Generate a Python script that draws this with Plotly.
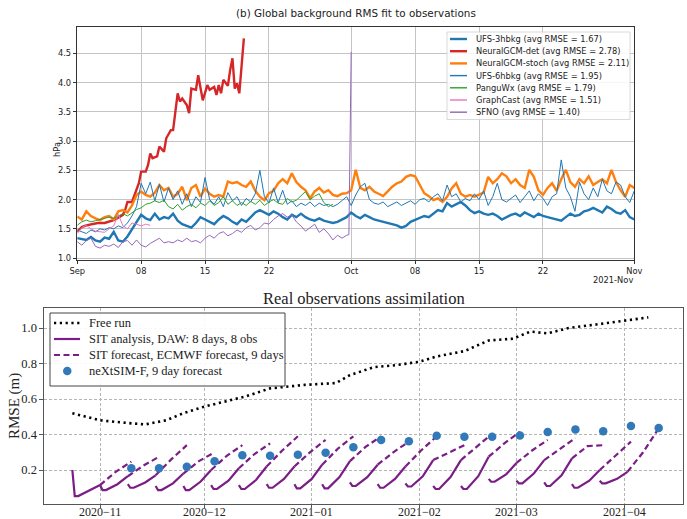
import plotly.graph_objects as go
import pandas as pd
import numpy as np

W, H = 687, 519

# ------------------------------------------------------------------
# TOP PANEL: Global background RMS fit to observations (hPa)
# 12-hourly values starting 2021-09-01 00Z
# ------------------------------------------------------------------
top_start = pd.Timestamp("2021-09-01")

ufs_3hbkg = [
    1.34, 1.33, 1.31, 1.36, 1.30, 1.28, 1.35, 1.33, 1.45, 1.30, 1.28, 1.37, 1.50,
    1.62, 1.74, 1.68, 1.65, 1.76, 1.66, 1.70, 1.68, 1.76, 1.64, 1.58, 1.55, 1.52,
    1.60, 1.70, 1.66, 1.62, 1.58, 1.66, 1.72, 1.68, 1.62, 1.58, 1.66, 1.62, 1.70,
    1.78, 1.82, 1.78, 1.74, 1.80, 1.76, 1.70, 1.66, 1.74, 1.70, 1.76, 1.70, 1.66,
    1.64, 1.68, 1.64, 1.62, 1.60, 1.62, 1.66, 1.70, 1.78, 1.72, 1.68, 1.74, 1.70,
    1.66, 1.64, 1.62, 1.60, 1.58, 1.56, 1.52, 1.55, 1.62, 1.65, 1.68, 1.72, 1.70,
    1.76, 1.82, 1.80, 1.94, 1.88, 1.92, 1.96, 1.90, 1.82, 1.77, 1.80, 1.76, 1.74,
    1.76, 1.72, 1.66, 1.70, 1.74, 1.76, 1.72, 1.78, 1.74, 1.70, 1.76, 1.72, 1.70,
    1.68, 1.66, 1.64, 1.70, 1.76, 1.72, 1.74, 1.80, 1.82, 1.86, 1.82, 1.78, 1.88,
    1.84, 1.78, 1.76, 1.82, 1.70, 1.66,
]

ngcm_stoch = [
    1.71, 1.66, 1.80, 1.72, 1.68, 1.65, 1.70, 1.72, 1.66, 1.80, 1.82, 1.78, 1.90,
    2.08, 2.14, 2.08, 2.05, 2.12, 2.25, 2.16, 2.20, 2.05, 2.10, 2.22, 1.99, 2.20,
    2.25, 2.05, 2.19, 2.10, 2.05, 2.08, 2.05, 2.31, 2.28, 2.30, 2.25, 2.22, 2.31,
    2.15, 2.05, 1.99, 2.11, 2.15, 2.28, 2.35, 2.28, 2.45, 2.30, 2.22, 2.16, 2.02,
    2.14, 2.20, 2.12, 2.16, 2.08, 2.06, 2.10, 2.11, 2.16, 2.51, 2.20, 2.16, 2.22,
    2.14, 2.10, 2.06, 2.14, 2.22, 2.28, 2.31, 2.39, 2.42, 2.40, 2.25, 2.11, 2.06,
    1.99, 2.02, 1.96, 2.05, 2.19, 2.28, 2.10, 2.05, 2.08, 2.05, 2.08, 2.12, 2.39,
    2.28, 2.35, 2.45, 2.40, 2.28, 2.35, 2.25, 2.20, 2.51, 2.39, 2.16, 2.08, 2.20,
    2.28, 2.15, 2.35, 2.51, 2.30, 2.22, 2.35, 2.28, 2.40, 2.25, 2.30, 2.35, 2.28,
    2.51, 2.30, 2.16, 2.05, 2.25, 2.20,
]

ufs_6hbkg = [
    1.48, 1.45, 1.42, 1.48, 1.45, 1.50, 1.48, 1.52, 1.50, 1.55, 1.52, 1.60, 1.72,
    1.88, 2.28, 2.10, 2.30, 1.98, 2.26, 1.96, 2.20, 2.00, 2.15, 1.92, 2.10, 1.88,
    2.05, 1.95, 2.38, 2.00, 1.92, 2.05, 1.88, 2.12, 1.98, 2.05, 1.90, 2.02, 1.96,
    2.10, 2.50, 2.05, 1.94, 2.20, 1.95, 2.16, 1.92, 1.98, 1.88, 1.94, 1.90, 1.96,
    1.88, 1.94, 1.90, 1.92, 1.88, 1.92, 1.99, 2.05, 1.90, 2.08, 2.22, 2.28, 2.00,
    1.94, 1.92, 1.96, 1.88, 1.92, 1.96, 1.90, 1.94, 1.98, 1.92, 2.00, 2.02, 1.96,
    2.05, 2.10, 1.98, 2.25, 2.05, 2.10, 1.96, 2.02, 1.98, 2.10, 2.00, 2.15, 1.90,
    2.05, 2.28, 2.00, 1.96, 2.02, 2.08, 1.95, 2.05, 2.15, 1.98, 2.10, 2.02, 1.90,
    2.05, 2.10, 2.68, 2.20, 2.05, 1.80, 2.30, 2.10, 2.00, 2.20, 2.05, 2.35, 2.15,
    2.10, 2.30, 2.25, 2.05, 1.95, 2.15,
]

pangu = [
    1.56, 1.62, 1.65, 1.62, 1.64, 1.66, 1.68, 1.70, 1.68, 1.72, 1.76, 1.72, 1.78,
    1.83, 1.86, 1.92, 1.94, 1.98, 1.95, 1.99, 1.88, 1.84, 1.92, 1.82, 1.88, 1.92,
    1.86, 1.94, 1.90, 1.98, 1.90, 1.95, 2.05, 1.92, 1.98, 1.90, 1.95, 1.90, 1.97,
    1.92, 1.99, 1.90, 1.96, 2.00, 1.94, 1.92, 2.02, 1.96, 1.99, 2.06, 2.14, 2.00,
    2.06, 2.10, 1.95, 1.88, 1.92,
]

graphcast = [1.42, 1.52, 1.56, 1.50, 1.46, 1.45, 1.44, 1.50, 1.55, 1.75, 1.55,
             1.50, 1.60, 1.58, 1.55, 1.58, 1.56]

sfno = [
    1.28, 1.22, 1.30, 1.34, 1.20, 1.17, 1.22, 1.20, 1.24, 1.18, 1.28, 1.30, 1.22,
    1.31, 1.22, 1.19, 1.25, 1.30, 1.34, 1.26, 1.28, 1.26, 1.31, 1.28, 1.34, 1.28,
    1.30, 1.26, 1.34, 1.39, 1.34, 1.42, 1.45, 1.38, 1.42, 1.48, 1.44, 1.52, 1.56,
    1.48, 1.52, 1.60, 1.58, 1.66, 1.72, 1.76, 1.70, 1.74, 1.62, 1.55, 1.46, 1.52,
    1.58, 1.44, 1.50, 1.42, 1.31, 1.39, 1.34, 1.39,
]
sfno_tail_days = [29.75, 30.0]
sfno_tail = [1.40, 4.53]

# NeuralGCM-det, 6-hourly sampling (days since 2021-09-01)
ngcm_det_days = [0, 0.5, 1.0, 1.5, 1.75, 2.25, 3.0, 3.5, 4.0, 4.5, 5.0, 5.25, 5.5,
                 6.0, 6.25, 6.75, 7.0, 7.5, 7.75, 8.0, 8.25, 8.75, 9.0, 9.5, 9.75,
                 10.25, 10.5, 11.0, 11.25, 11.5, 12.0, 12.25, 12.5, 13.0, 13.25,
                 13.5, 13.75, 14.25, 14.5, 15.0, 15.25, 15.5, 15.75, 16.0, 16.5,
                 16.75, 17.0, 17.25, 17.5, 17.75, 18.25]
ngcm_det = [1.45, 1.53, 1.56, 1.58, 1.59, 1.60, 1.60, 1.62, 1.65, 1.69, 1.74, 1.82,
            1.96, 1.96, 2.08, 2.28, 2.48, 2.48, 2.59, 2.79, 2.71, 2.74, 2.91, 2.82,
            3.05, 3.19, 3.19, 3.82, 3.68, 3.73, 3.62, 3.48, 3.90, 3.88, 4.13, 3.93,
            3.70, 3.96, 3.88, 3.93, 3.79, 3.96, 3.82, 4.05, 3.95, 4.22, 4.42, 3.90,
            3.99, 3.82, 4.76]

top_xticks = ["2021-09-01", "2021-09-08", "2021-09-15", "2021-09-22", "2021-10-01",
              "2021-10-08", "2021-10-15", "2021-10-22", "2021-11-01"]
top_xticklabels = ["Sep", "08", "15", "22", "Oct", "08", "15", "22", "Nov"]
top_yticks = [1.0, 1.5, 2.0, 2.5, 3.0, 3.5, 4.0, 4.5]

top_series = [
    ("UFS-3hbkg (avg RMSE = 1.67)", "#1f77b4", 2.4),
    ("NeuralGCM-det (avg RMSE = 2.78)", "#d62728", 2.4),
    ("NeuralGCM-stoch (avg RMSE = 2.11)", "#ff7f0e", 2.4),
    ("UFS-6hbkg (avg RMSE = 1.95)", "#1f77b4", 1.0),
    ("PanguWx (avg RMSE = 1.79)", "#2ca02c", 1.0),
    ("GraphCast (avg RMSE = 1.51)", "#e377c2", 1.0),
    ("SFNO (avg RMSE = 1.40)", "#9467bd", 1.0),
]

# ------------------------------------------------------------------
# BOTTOM PANEL: Real observations assimilation (RMSE, m)
# ------------------------------------------------------------------
free_run_dates = ["2020-10-24", "2020-11-01", "2020-11-10", "2020-11-14", "2020-11-20",
                  "2020-11-25", "2020-12-01", "2020-12-07", "2020-12-13", "2020-12-20",
                  "2020-12-30", "2021-01-08", "2021-01-12", "2021-01-19", "2021-01-25",
                  "2021-02-01", "2021-02-06", "2021-02-14", "2021-02-21", "2021-02-28",
                  "2021-03-05", "2021-03-10", "2021-03-16", "2021-03-24", "2021-03-31",
                  "2021-04-08"]
free_run = [0.52, 0.48, 0.463, 0.457, 0.48, 0.52, 0.557, 0.585, 0.615, 0.66, 0.68,
            0.69, 0.735, 0.78, 0.79, 0.81, 0.84, 0.87, 0.93, 0.94, 0.98, 0.97, 1.00,
            1.02, 1.04, 1.06]

first_valid = pd.Timestamp("2020-11-10")
cycle_step_days = 8
nextsim_f = [0.21, 0.21, 0.219, 0.249, 0.283, 0.28, 0.286, 0.297, 0.328, 0.369,
             0.362, 0.393, 0.388, 0.388, 0.395, 0.414, 0.429, 0.418, 0.448, 0.437]

sit_start = [0.20, 0.115, 0.12, 0.11, 0.11, 0.115, 0.115, 0.12, 0.12, 0.12,
             0.13, 0.12, 0.125, 0.11, 0.11, 0.15, 0.14, 0.13, 0.12, 0.14]
sit_low = [0.053, 0.087, 0.10, 0.087, 0.087, 0.093, 0.093, 0.10, 0.097, 0.097,
           0.11, 0.10, 0.107, 0.093, 0.093, 0.134, 0.125, 0.11, 0.10, 0.125]
sit_mid = [0.085, 0.12, 0.13, 0.125, 0.135, 0.14, 0.145, 0.15, 0.15, 0.16,
           0.16, 0.15, 0.165, 0.16, 0.165, 0.175, 0.18, 0.17, 0.14, 0.15]
sit_end = [0.115, 0.165, 0.17, 0.18, 0.20, 0.21, 0.22, 0.22, 0.23, 0.25,
           0.23, 0.22, 0.256, 0.256, 0.275, 0.24, 0.256, 0.266, 0.20, 0.19]
fc_mid = [0.19, 0.225, 0.26, 0.25, 0.28, 0.29, 0.31, 0.30, 0.32, 0.33,
          0.30, 0.31, 0.30, 0.33, 0.35, 0.31, 0.32, 0.335, 0.28, 0.30]
fc_end = [0.247, 0.275, 0.34, 0.30, 0.34, 0.35, 0.39, 0.37, 0.39, 0.39,
          0.36, 0.39, 0.34, 0.405, 0.415, 0.37, 0.38, 0.34, 0.36, 0.435]
sit_offsets = [-17, -16.3, -15.3, -12, -9]
fc_offsets = [-9, -4.5, 0]

bot_xticks = ["2020-11-01", "2020-12-01", "2021-01-01", "2021-02-01", "2021-03-01", "2021-04-01"]
bot_xticklabels = ["2020\u221211", "2020\u221212", "2021\u221201", "2021\u221202",
                   "2021\u221203", "2021\u221204"]
bot_yticks = [0.2, 0.4, 0.6, 0.8, 1.0]

PURPLE = "#7a1e86"
DOTBLUE = "#3179b8"

# ------------------------------------------------------------------
fig = go.Figure()

def tdays(days):
    return [top_start + pd.Timedelta(hours=24 * d) for d in days]

half_day = [0.5 * i for i in range(len(ufs_3hbkg))]
top_values = [
    (tdays(half_day), ufs_3hbkg),
    (tdays(ngcm_det_days), ngcm_det),
    (tdays(half_day[:len(ngcm_stoch)]), ngcm_stoch),
    (tdays(half_day[:len(ufs_6hbkg)]), ufs_6hbkg),
    (tdays(half_day[:len(pangu)]), pangu),
    (tdays(half_day[:len(graphcast)]), graphcast),
    (tdays(half_day[:len(sfno)] + sfno_tail_days), sfno + sfno_tail),
]
for (name, color, width), (xs, ys) in zip(top_series, top_values):
    fig.add_trace(go.Scatter(x=xs, y=ys, mode="lines", name=name,
                             line=dict(color=color, width=width),
                             xaxis="x", yaxis="y"))

fig.add_trace(go.Scatter(x=pd.to_datetime(free_run_dates), y=free_run, mode="lines",
                         name="Free run",
                         line=dict(color="black", width=2.6, dash="2.2px,3.6px"),
                         xaxis="x2", yaxis="y2"))

valid_dates = [first_valid + pd.Timedelta(days=cycle_step_days * k) for k in range(len(nextsim_f))]
sx, sy, fx, fy = [], [], [], []
for k, D in enumerate(valid_dates):
    vals = [sit_start[k], sit_low[k], sit_low[k], sit_mid[k], sit_end[k]]
    for off, v in zip(sit_offsets, vals):
        sx.append(D + pd.Timedelta(hours=24 * off)); sy.append(v)
    sx.append(None); sy.append(None)
    fvals = [sit_end[k], fc_mid[k], fc_end[k]]
    for off, v in zip(fc_offsets, fvals):
        fx.append(D + pd.Timedelta(hours=24 * off)); fy.append(v)
    fx.append(None); fy.append(None)

fig.add_trace(go.Scatter(x=sx, y=sy, mode="lines", name="SIT analysis, DAW: 8 days, 8 obs",
                         line=dict(color=PURPLE, width=2.2), connectgaps=False,
                         xaxis="x2", yaxis="y2"))
fig.add_trace(go.Scatter(x=fx, y=fy, mode="lines", name="SIT forecast, ECMWF forecast, 9 days",
                         line=dict(color=PURPLE, width=2.2, dash="6px,3.5px"), connectgaps=False,
                         xaxis="x2", yaxis="y2"))
fig.add_trace(go.Scatter(x=valid_dates, y=nextsim_f, mode="markers",
                         name="neXtSIM-F, 9 day forecast",
                         marker=dict(color=DOTBLUE, size=8.5, line=dict(width=0)),
                         xaxis="x2", yaxis="y2"))

# ------------------------------------------------------------------
def px(x):
    return x / W

def py(y):
    return 1 - y / H

SANS = "DejaVu Sans"
SERIF = "Liberation Serif"
TFONT = dict(family=SANS, size=8.3, color="#222")
SFONT = dict(family=SERIF, size=12.5, color="#222")

fig.update_layout(
    width=W, height=H, margin=dict(l=0, r=0, t=0, b=0, autoexpand=False),
    paper_bgcolor="white", plot_bgcolor="white", showlegend=False,
    xaxis=dict(domain=[px(77.2), px(634.3)], anchor="y", type="date",
               range=["2021-09-01", "2021-11-01"], automargin=False,
               tickvals=top_xticks, ticktext=top_xticklabels, tickangle=0,
               showgrid=True, gridcolor="#c4c4c4", gridwidth=0.8, zeroline=False,
               showline=True, mirror=True, linecolor="#333", linewidth=0.9,
               ticks="outside", ticklen=3.5, tickwidth=0.8, tickcolor="#333",
               tickfont=TFONT),
    yaxis=dict(domain=[py(259.8), py(26.7)], anchor="x", range=[0.97, 4.96],
               automargin=False,
               tickvals=top_yticks, ticktext=[f"{v:.1f}" for v in top_yticks],
               showgrid=True, gridcolor="#c4c4c4", gridwidth=0.8, zeroline=False,
               showline=True, mirror=True, linecolor="#333", linewidth=0.9,
               ticks="outside", ticklen=3.5, tickwidth=0.8, tickcolor="#333",
               tickfont=TFONT),
    xaxis2=dict(domain=[px(44), px(683)], anchor="y2", type="date",
                range=["2020-10-15 20:00", "2021-04-18 00:00"], automargin=False,
                tickvals=bot_xticks, showticklabels=False,
                showgrid=True, gridcolor="#b5b5b5", gridwidth=0.8, griddash="3px,2px",
                zeroline=False, showline=True, mirror=True, linecolor="#555",
                linewidth=1.2, ticks="outside", ticklen=2.5, tickcolor="#555"),
    yaxis2=dict(domain=[py(504), py(308)], anchor="x2", range=[0.0085, 1.113],
                automargin=False,
                tickvals=bot_yticks, ticktext=[f"{v:.1f}" for v in bot_yticks],
                showgrid=True, gridcolor="#b5b5b5", gridwidth=0.8, griddash="3px,2px",
                zeroline=False, showline=True, mirror=True, linecolor="#555",
                linewidth=1.2, ticks="outside", ticklen=3.5, tickcolor="#555",
                tickfont=SFONT),
)

annotations = [
    dict(text="(b) Global background RMS fit to observations", x=px(355.5), y=py(13),
         font=dict(family=SANS, size=10.4, color="#222")),
    dict(text="hPa", x=px(57), y=py(150), textangle=-90, font=TFONT),
    dict(text="2021-Nov", x=px(635), y=py(279.5), xanchor="right", font=TFONT),
    dict(text="Real observations assimilation", x=px(363.5), y=py(298),
         font=dict(family=SERIF, size=16.5, color="#222")),
    dict(text="RMSE (m)", x=px(14), y=py(406), textangle=-90,
         font=dict(family=SERIF, size=15, color="#222")),
]
# bottom x tick labels (placed on the date axis, just under the frame)
for tv, tt in zip(bot_xticks, bot_xticklabels):
    annotations.append(dict(text=tt, x=tv, xref="x2", y=py(512), yref="paper",
                            font=dict(family=SERIF, size=12, color="#222")))

shapes = []
shapes.append(dict(type="rect", xref="paper", yref="paper",
                   x0=px(447), x1=px(630), y0=py(119.5), y1=py(32),
                   line=dict(color="#cfcfcf", width=0.8), fillcolor="rgba(255,255,255,0.85)"))
row_y = [39, 51.2, 63.4, 75.6, 87.8, 100, 112.2]
for (name, color, width), ry in zip(top_series, row_y):
    shapes.append(dict(type="line", xref="paper", yref="paper",
                       x0=px(450), x1=px(467), y0=py(ry), y1=py(ry),
                       line=dict(color=color, width=max(width, 1.4))))
    annotations.append(dict(text=name, x=px(474), y=py(ry), xanchor="left", font=TFONT))

shapes.append(dict(type="rect", xref="paper", yref="paper",
                   x0=px(50), x1=px(285), y0=py(386), y1=py(313),
                   line=dict(color="#444", width=1.0), fillcolor="rgba(255,255,255,0.9)"))
brow = [323, 339, 355, 371]
bnames = ["Free run", "SIT analysis, DAW: 8 days, 8 obs",
          "SIT forecast, ECMWF forecast, 9 days", "neXtSIM-F, 9 day forecast"]
shapes.append(dict(type="line", xref="paper", yref="paper", x0=px(54), x1=px(80),
                   y0=py(brow[0]), y1=py(brow[0]),
                   line=dict(color="black", width=2.6, dash="2.2px,3.6px")))
shapes.append(dict(type="line", xref="paper", yref="paper", x0=px(54), x1=px(80),
                   y0=py(brow[1]), y1=py(brow[1]), line=dict(color=PURPLE, width=2.2)))
shapes.append(dict(type="line", xref="paper", yref="paper", x0=px(54), x1=px(80),
                   y0=py(brow[2]), y1=py(brow[2]),
                   line=dict(color=PURPLE, width=2.2, dash="6px,3.5px")))
shapes.append(dict(type="circle", xref="paper", yref="paper",
                   x0=px(63), x1=px(71.5), y0=py(brow[3] + 4.25), y1=py(brow[3] - 4.25),
                   line=dict(width=0), fillcolor=DOTBLUE))
for name, ry in zip(bnames, brow):
    annotations.append(dict(text=name, x=px(87), y=py(ry), xanchor="left", font=SFONT))

for a in annotations:
    a.setdefault("xref", "paper"); a.setdefault("yref", "paper")
    a.setdefault("showarrow", False); a.setdefault("xanchor", "center")
    a.setdefault("yanchor", "middle")

fig.update_layout(annotations=annotations, shapes=shapes)
fig.write_html("out.html", config={"responsive": False, "displayModeBar": False},
               post_script="document.body.style.margin='0px';document.body.style.overflow='hidden';")
